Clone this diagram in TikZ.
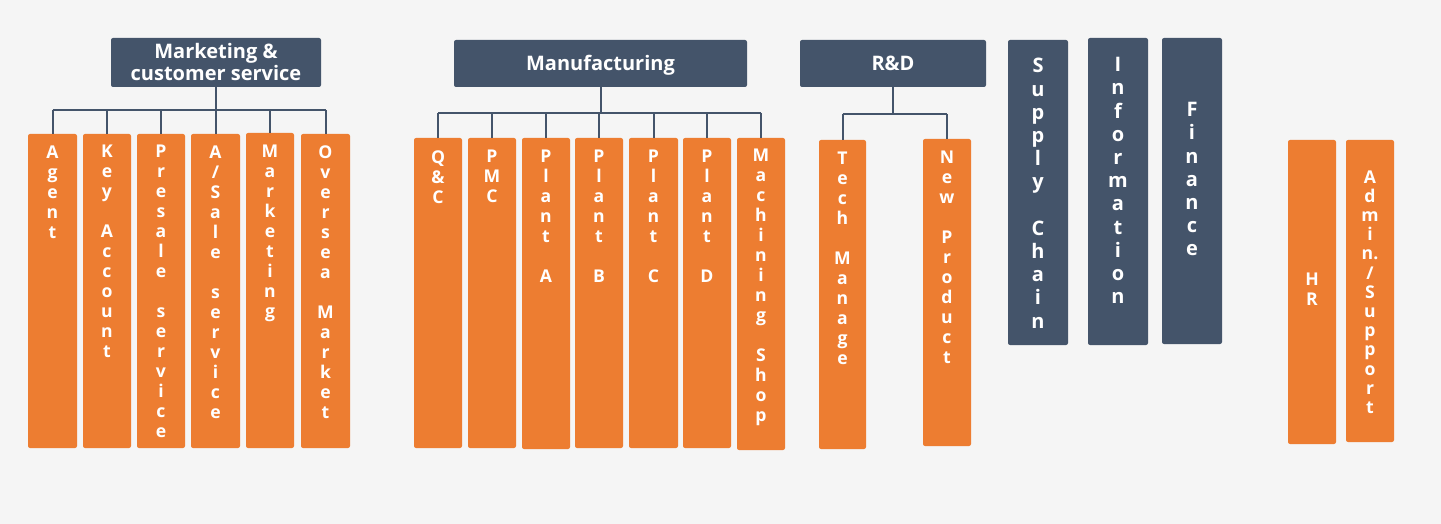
\documentclass[tikz,border=0pt]{standalone}
\usepackage{fontspec}
\setmainfont{Open Sans}
\usetikzlibrary{fit}
\definecolor{org}{HTML}{ED7D31}
\definecolor{dkb}{HTML}{44546A}
\definecolor{bgc}{HTML}{F5F5F5}
\begin{document}
\begin{tikzpicture}[x=0.5pt,y=-0.5pt,
  obox/.style={fill=org, draw=none, rounded corners=1pt, inner sep=0pt},
  dbox/.style={fill=dkb, draw=none, rounded corners=1pt, inner sep=0pt},
  vtext/.style={text=white, font=\bfseries\fontsize{8.8}{10}\selectfont, align=center, inner sep=0pt, anchor=north},
  atext/.style={vtext, font=\bfseries\fontsize{8.8}{9.6}\selectfont},
  dtext/.style={vtext, font=\bfseries\fontsize{10}{11.6}\selectfont},
  htext/.style={text=white, font=\bfseries\fontsize{10}{11}\selectfont, align=center, inner sep=0pt},
  conn/.style={draw=dkb, line width=1pt}]
\fill[bgc] (0,0) rectangle (1441,524);
\useasboundingbox (0,0) rectangle (1441,524);

% ---------- Marketing & customer service ----------
\node[dbox, fit={(111,38)(321,87)}] (mkt) {};
\node[htext] (mkt-t) at (mkt.center) {Marketing \&\\customer service};
\node[obox, fit={(28,134)(77,448)}] (agent) {};
\node[obox, fit={(83,134)(131,448)}] (keyacc) {};
\node[obox, fit={(137,134)(185,448)}] (presale) {};
\node[obox, fit={(191,134)(240,448)}] (asale) {};
\node[obox, fit={(246,133)(294,448)}] (mkting) {};
\node[obox, fit={(301,134)(350,448)}] (oversea) {};
\node[vtext] (agent-t) at (agent.north |- 0,145) {A\\g\\e\\n\\t};
\node[vtext] (keyacc-t) at (keyacc.north |- 0,145) {K\\e\\y\\[10pt]A\\c\\c\\o\\u\\n\\t};
\node[vtext] (presale-t) at (presale.north |- 0,145) {P\\r\\e\\s\\a\\l\\e\\[10pt]s\\e\\r\\v\\i\\c\\e};
\node[vtext] (asale-t) at (asale.north |- 0,145) {A\\/\\S\\a\\l\\e\\[10pt]s\\e\\r\\v\\i\\c\\e};
\node[vtext] (mkting-t) at (mkting.north |- 0,145) {M\\a\\r\\k\\e\\t\\i\\n\\g};
\node[vtext] (oversea-t) at (oversea.north |- 0,145) {O\\v\\e\\r\\s\\e\\a\\[10pt]M\\a\\r\\k\\e\\t};
\coordinate (mkbus) at (215,110);
\draw[conn] (mkt.south) -- (mkt.south |- mkbus);
\draw[conn] (mkbus -| agent.north) -- (mkbus -| oversea.north);
\foreach \c in {agent,keyacc,presale,asale,mkting,oversea}
  \draw[conn] (mkbus -| \c.north) -- (\c.north);

% ---------- Manufacturing ----------
\node[dbox, fit={(454,40)(747,87)}] (mfg) {};
\node[htext, anchor=base] (mfg-t) at (mfg.center |- 0,71) {Manufacturing};
\node[obox, fit={(414,138)(462,448)}] (qc) {};
\node[obox, fit={(468,138)(516,448)}] (pmc) {};
\node[obox, fit={(522,138)(570,449)}] (planta) {};
\node[obox, fit={(575,138)(623,448)}] (plantb) {};
\node[obox, fit={(629,138)(678,448)}] (plantc) {};
\node[obox, fit={(683,138)(731,448)}] (plantd) {};
\node[obox, fit={(737,138)(785,450)}] (mach) {};
\node[vtext] (qc-t) at (qc.north |- 0,150) {Q\\\&\\C};
\node[vtext] (pmc-t) at (pmc.north |- 0,150) {P\\M\\C};
\node[vtext] (planta-t) at (planta.north |- 0,150) {P\\l\\a\\n\\t\\[10pt]A};
\node[vtext] (plantb-t) at (plantb.north |- 0,150) {P\\l\\a\\n\\t\\[10pt]B};
\node[vtext] (plantc-t) at (plantc.north |- 0,150) {P\\l\\a\\n\\t\\[10pt]C};
\node[vtext] (plantd-t) at (plantd.north |- 0,150) {P\\l\\a\\n\\t\\[10pt]D};
\node[vtext] (mach-t) at (mach.north |- 0,149) {M\\a\\c\\h\\i\\n\\i\\n\\g\\[10pt]S\\h\\o\\p};
\coordinate (mfbus) at (601,113);
\draw[conn] (mfg.south) -- (mfg.south |- mfbus);
\draw[conn] (mfbus -| qc.north) -- (mfbus -| mach.north);
\foreach \c in {qc,pmc,planta,plantb,plantc,plantd,mach}
  \draw[conn] (mfbus -| \c.north) -- (\c.north);

% ---------- R&D ----------
\node[dbox, fit={(800,40)(986,87)}] (rd) {};
\node[htext, anchor=base] (rd-t) at (rd.center |- 0,71) {R\&D};
\node[obox, fit={(819,140)(866,449)}] (tech) {};
\node[obox, fit={(923,139)(971,446)}] (newp) {};
\node[vtext] (tech-t) at (tech.north |- 0,152) {T\\e\\c\\h\\[10pt]M\\a\\n\\a\\g\\e};
\node[vtext] (newp-t) at (newp.north |- 0,151) {N\\e\\w\\[10pt]P\\r\\o\\d\\u\\c\\t};
\coordinate (rdbus) at (893,114);
\draw[conn] (rd.south) -- (rd.south |- rdbus);
\draw[conn] (rdbus -| tech.north) -- (rdbus -| newp.north);
\foreach \c in {tech,newp}
  \draw[conn] (rdbus -| \c.north) -- (\c.north);

% ---------- Stand-alone departments ----------
\node[dbox, fit={(1008,40)(1068,345)}] (supply) {};
\node[dbox, fit={(1088,38)(1148,345)}] (info) {};
\node[dbox, fit={(1162,38)(1222,344)}] (fin) {};
\node[dtext] (supply-t) at (supply.north |- 0,58) {S\\u\\p\\p\\l\\y\\[11.6pt]C\\h\\a\\i\\n};
\node[dtext] (info-t) at (info.north |- 0,57) {I\\n\\f\\o\\r\\m\\a\\t\\i\\o\\n};
\node[dtext] (fin-t) at (fin.north |- 0,102) {F\\i\\n\\a\\n\\c\\e};
\node[obox, fit={(1288,140)(1336,444)}] (hr) {};
\node[obox, fit={(1346,140)(1394,442)}] (admin) {};
\node[atext] (hr-t) at (hr.north |- 0,273) {H\\R};
\node[atext] (admin-t) at (admin.north |- 0,170) {A\\d\\m\\i\\n.\\/\\S\\u\\p\\p\\o\\r\\t};
\end{tikzpicture}
\end{document}
